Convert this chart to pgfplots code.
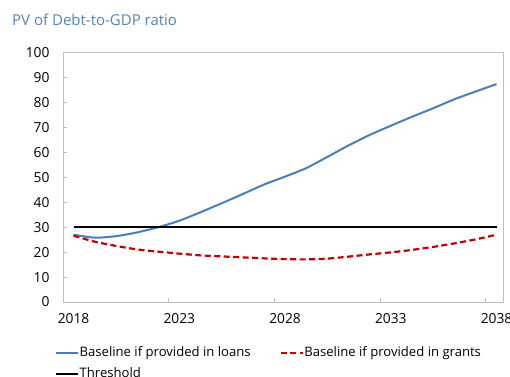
\documentclass[border=0pt]{standalone}
\usepackage{fontspec}
\setmainfont{Open Sans}
\usepackage{pgfplots}
\pgfplotsset{compat=1.18}
\definecolor{titleblue}{RGB}{84,132,186}
\definecolor{lineblue}{RGB}{74,126,187}
\definecolor{darkred}{RGB}{192,0,0}
\definecolor{axgray}{RGB}{191,191,191}
\begin{document}
\begin{tikzpicture}[x=1pt,y=1pt]
\useasboundingbox (0,0) rectangle (510,376);
\node[anchor=base west, text=titleblue, font=\fontsize{15}{17}\selectfont, inner sep=0pt] at (12,351) {PV of Debt-to-GDP ratio};
\begin{axis}[
  at={(63pt,74pt)}, anchor=south west,
  scale only axis, width=440.3pt, height=249.3pt,
  xmin=2017.5, xmax=2038.32, ymin=0, ymax=100,
  axis line style={axgray, line width=1pt},
  tick style={axgray, line width=1pt},
  tick align=inside,
  xtick pos=bottom, ytick pos=left,
  xtick={2018,2023,2028,2033,2038},
  major x tick style={draw=none},
  minor xtick={2022.5,2027.5,2032.5,2037.5},
  minor tick length=4pt,
  ytick={0,10,...,100},
  major tick length=4pt,
  /pgf/number format/assume math mode=true,
  xticklabel={\pgfmathprintnumber[1000 sep={}]{\tick}},
  ticklabel style={font=\fontsize{13.8}{15}\selectfont, text=black},
  yticklabel style={xshift=-10pt},
  xticklabel style={yshift=-8pt},
  legend columns=2,
  legend cell align=left,
  legend style={draw=none, fill=none, inner sep=0pt, outer sep=0pt,
    at={(axis description cs:0,0)}, anchor=north west, xshift=-8pt, yshift=-45pt,
    font=\fontsize{13.1}{15}\selectfont,
    nodes={inner sep=0pt, text height=9pt, text depth=3pt},
    row sep=9pt, column sep=0.5pt,
    /tikz/every even column/.append style={column sep=29pt}},
  legend image code/.code={\draw[#1] (0pt,0pt) -- (22pt,0pt);},
]
\addplot[lineblue, line width=2pt, smooth, tension=0.4] coordinates {
(2018,27.0) (2019,25.8) (2020,26.4) (2021,27.9) (2022,30.0) (2023,32.6)
(2024,36.0) (2025,39.6) (2026,43.3) (2027,47.1) (2028,50.3) (2029,53.7)
(2030,58.2) (2031,62.8) (2032,67.0) (2033,70.7) (2034,74.3) (2035,77.7)
(2036,81.3) (2037,84.4) (2038,87.4)};
\addlegendentry{Baseline if provided in loans}
\addplot[darkred, line width=2.2pt, dash pattern=on 6pt off 3.5pt, smooth, tension=0.4] coordinates {
(2018,26.6) (2019,24.2) (2020,22.5) (2021,21.1) (2022,20.2) (2023,19.4)
(2024,18.7) (2025,18.3) (2026,17.9) (2027,17.5) (2028,17.2) (2029,17.1)
(2030,17.4) (2031,18.2) (2032,19.1) (2033,19.9) (2034,20.9) (2035,22.1)
(2036,23.5) (2037,25.1) (2038,27.0)};
\addlegendentry{Baseline if provided in grants}
\addplot[black, line width=2.2pt] coordinates {(2018,30) (2038,30)};
\addlegendentry{Threshold}
\end{axis}
\end{tikzpicture}
\end{document}
